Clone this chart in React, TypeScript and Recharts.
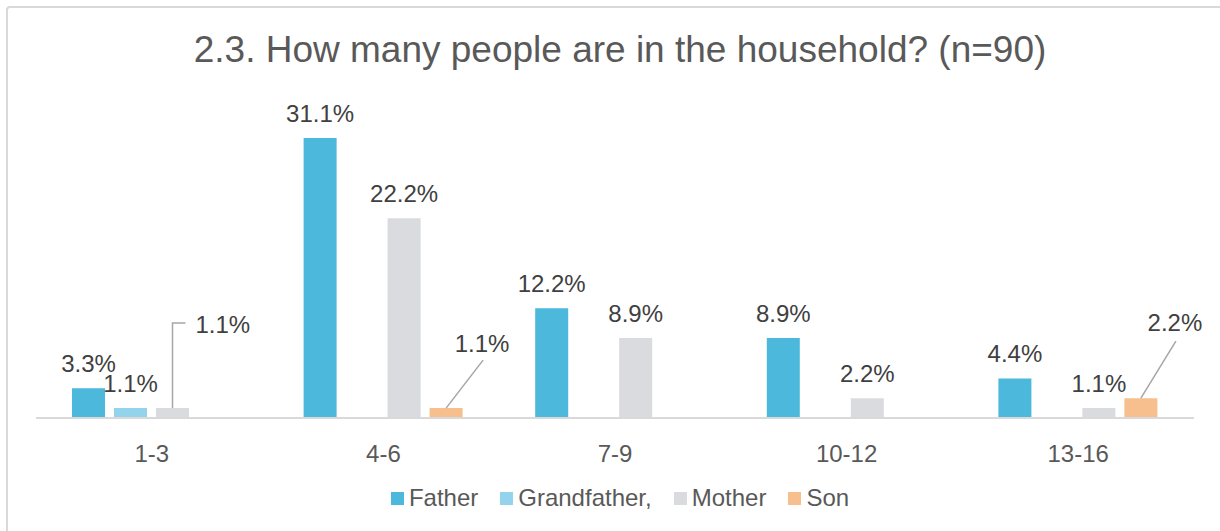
import { BarChart, Bar, XAxis, YAxis } from 'recharts'

const categories = ['1-3', '4-6', '7-9', '10-12', '13-16']
const father = [3.3, 31.1, 12.2, 8.9, 4.4]
const grandfather = [1.1, 0, 0, 0, 0]
const mother = [1.1, 22.2, 8.9, 2.2, 1.1]
const son = [0, 1.1, 0, 0, 2.2]

const seriesList = [
  { key: 'Father', values: father, color: '#4cb8dc' },
  { key: 'Grandfather,', values: grandfather, color: '#93d3ec' },
  { key: 'Mother', values: mother, color: '#d9dbdf' },
  { key: 'Son', values: son, color: '#f6bf8d' },
]

const data = categories.map((name, i) => {
  const row: any = { name }
  seriesList.forEach(s => { row[s.key] = s.values[i] })
  return row
})

const FONT = '"Liberation Sans", Arial, sans-serif'
const W = 1212
const H = 523
const MARGIN = { top: 95, right: 26, left: 28, bottom: 83 }
const BAND = (W - MARGIN.left - MARGIN.right) / categories.length

// labels that Excel pulled out with a leader line
const callouts: Record<string, any> = {
  'Mother|1-3': { elbow: true, rise: 85, run: 13, tx: 23, ty: -75, anchor: 'start' },
  'Son|4-6': { lx: 37, ly: -48, tx: 36, ty: -56, anchor: 'middle' },
  'Son|13-16': { lx: 35, ly: -57, tx: 34, ty: -67, anchor: 'middle' },
}

const makeLabel = (seriesKey: string) => (props: any) => {
  const { x, y, width, value } = props
  if (value === null || value === undefined || value === 0) return null
  const cx = x + width / 2
  const text = `${Number(value).toFixed(1)}%`
  // zero bars are skipped by recharts, so find the category from the bar position
  const cat = categories[Math.floor((cx - MARGIN.left) / BAND)]
  const c = callouts[`${seriesKey}|${cat}`]
  if (c) {
    return (
      <g>
        {c.elbow ? (
          <polyline
            points={`${cx},${y} ${cx},${y - c.rise} ${cx + c.run},${y - c.rise}`}
            fill="none" stroke="#a6a6a6" strokeWidth={1.5}
          />
        ) : (
          <line x1={cx} y1={y} x2={cx + c.lx} y2={y + c.ly} stroke="#a6a6a6" strokeWidth={1.5} />
        )}
        <text x={cx + c.tx} y={y + c.ty} textAnchor={c.anchor} fontSize={24} fill="#404040" fontFamily={FONT}>
          {text}
        </text>
      </g>
    )
  }
  return (
    <text x={cx} y={y - 16} textAnchor="middle" fontSize={24} fill="#404040" fontFamily={FONT}>
      {text}
    </text>
  )
}

const CategoryTick = ({ x, y, payload }: any) => (
  <text x={x} y={y + 44} textAnchor="middle" fontSize={24} fill="#595959" fontFamily={FONT}>
    {payload.value}
  </text>
)

export default function App() {
  return (
    <div
      style={{
        position: 'absolute', left: 6, top: 6, width: 1230, height: 540,
        border: '2px solid #d9d9d9', borderRadius: 4, background: '#fff', fontFamily: FONT,
      }}
    >
      <div
        style={{
          position: 'absolute', left: 0, top: 23, width: 1224, textAlign: 'center',
          fontSize: 37, lineHeight: '37px', color: '#595959', whiteSpace: 'nowrap',
        }}
      >
        2.3. How many people are in the household? (n=90)
      </div>
      <div style={{ position: 'absolute', left: 0, top: 0 }}>
        <BarChart width={W} height={H} data={data} margin={MARGIN} barSize={33} barGap={9}>
          <XAxis
            dataKey="name"
            height={30}
            tickSize={0}
            tickMargin={0}
            tickLine={false}
            axisLine={{ stroke: '#d9d9d9', strokeWidth: 2 }}
            tick={<CategoryTick />}
            interval={0}
          />
          <YAxis hide domain={[0, 35]} />
          {seriesList.map(s => (
            <Bar
              key={s.key}
              dataKey={s.key}
              fill={s.color}
              isAnimationActive={false}
              label={makeLabel(s.key)}
            />
          ))}
        </BarChart>
      </div>
      <div
        style={{
          position: 'absolute', left: 0, top: 478, width: 1224, display: 'flex',
          justifyContent: 'center', alignItems: 'center', fontSize: 24, lineHeight: '24px',
          color: '#595959',
        }}
      >
        {seriesList.map((s, i) => (
          <div key={s.key} style={{ display: 'flex', alignItems: 'center', marginLeft: i === 0 ? 0 : 22 }}>
            <span style={{ width: 13, height: 13, background: s.color, marginRight: 5, display: 'inline-block' }} />
            <span>{s.key}</span>
          </div>
        ))}
      </div>
    </div>
  )
}
